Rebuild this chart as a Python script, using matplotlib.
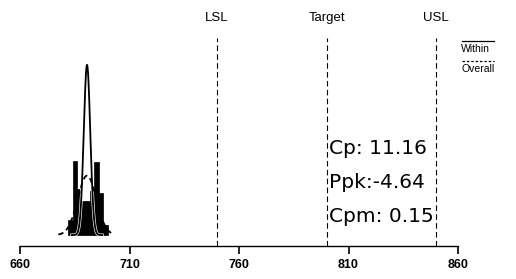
import numpy as np
import matplotlib
matplotlib.use('Agg')
from matplotlib import pyplot as plt

# spec limits
lsl, target, usl = 750, 800, 850
mean = 690.6
sigma_within = 1.49
sigma_overall = 4.27

# histogram (bin edges and relative counts)
bin_edges = [682, 684, 686, 688, 690, 692, 694, 696, 698, 700]
counts = [9, 44, 27, 20, 20, 26, 43, 25, 6]

# capability indices shown in the box
stats = ['Cp: 11.16', 'Ppk:-4.64', 'Cpm: 0.15']
xticks = [660, 710, 760, 810, 860]

plt.rcParams['font.family'] = ['Liberation Sans', 'DejaVu Sans']

fig = plt.figure(figsize=(5.16, 2.79), dpi=100)
W, H = 516, 279
ax = fig.add_axes([20 / W, 1 - 246 / H, (458 - 20) / W, (246 - 38) / H])

widths = np.diff(bin_edges)
dens = np.array(counts) / (np.sum(counts) * widths) * 1.17
ax.bar(bin_edges[:-1], dens, width=widths, align='edge', color='black',
       edgecolor='black', linewidth=0.5)


def normal_pdf(x, mu, sd):
    return np.exp(-0.5 * ((x - mu) / sd) ** 2) / (sd * np.sqrt(2 * np.pi))


xs = np.linspace(mean - 7, mean + 7, 300)
ax.plot(xs, normal_pdf(xs, mean, sigma_within), color='white', lw=2.2)
ax.plot(xs, normal_pdf(xs, mean, sigma_within), color='black', lw=1.3)
xo = np.linspace(677.5, 703, 300)
ax.plot(xo, normal_pdf(xo, mean, sigma_overall), color='black', lw=1.3,
        ls=(0, (3, 2)))

for v, name in [(lsl, 'LSL'), (target, 'Target'), (usl, 'USL')]:
    ax.axvline(v, color='black', lw=0.8, ls=(0, (5, 3)))
    fig.text((20 + (v - 660) * 438 / 200) / W, 1 - 18 / H, name,
             ha='center', va='center', fontsize=9.5)

for i, s in enumerate(stats):
    fig.text(329 / W, 1 - (148 + 34.5 * i) / H, s, family='DejaVu Sans',
             ha='left', va='center', fontsize=14.5)

ax.set_xlim(660, 860)
ax.set_ylim(-0.0172, 0.310)
ax.set_xticks(xticks)
ax.tick_params(axis='x', direction='out', length=6, width=1.2, labelsize=9, pad=3)
for lab in ax.get_xticklabels():
    lab.set_fontweight('bold')
ax.set_yticks([])
for s in ['top', 'right', 'left']:
    ax.spines[s].set_visible(False)
ax.spines['bottom'].set_bounds(660, 860)
ax.spines['bottom'].set_linewidth(1.0)

# legend drawn by hand at the right edge
fig.lines.append(plt.Line2D([462 / W, 494 / W], [1 - 41 / H, 1 - 41 / H],
                            transform=fig.transFigure, color='black', lw=0.9))
fig.text(461 / W, 1 - 48.5 / H, 'Within', ha='left', va='center', fontsize=7.5)
fig.lines.append(plt.Line2D([462 / W, 494 / W], [1 - 61 / H, 1 - 61 / H],
                            transform=fig.transFigure, color='black', lw=0.9,
                            ls=(0, (2, 1.5))))
fig.text(461 / W, 1 - 68.5 / H, 'Overall', ha='left', va='center', fontsize=7.5)

fig.savefig('out.png', dpi=100)
